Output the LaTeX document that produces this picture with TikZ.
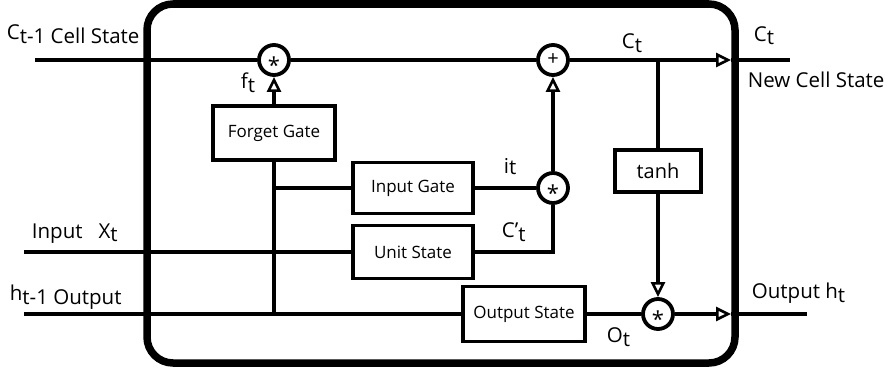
\documentclass[tikz,border=0pt]{standalone}
\usepackage{fontspec}
\setmainfont{Open Sans}
\usetikzlibrary{arrows.meta,positioning}

\newcommand{\lo}[1]{\raisebox{-4pt}{#1}}
\newcommand{\hi}[1]{\raisebox{4pt}{#1}}
\newcommand{\mulsym}{\raisebox{-13pt}[0pt][0pt]{*}}

\begin{document}
\begin{tikzpicture}[x=1pt, y=-1pt, line width=3.8pt,
  gate/.style={draw, rectangle, inner sep=0pt, font=\fontsize{17}{17}\selectfont},
  op/.style={draw, circle, minimum size=30pt, inner sep=0pt, font=\fontsize{22}{22}\selectfont},
  lbl/.style={inner sep=0pt, font=\fontsize{20.5}{20.5}\selectfont},
  oarr/.style={-{Triangle[open, length=15pt, width=14pt, line width=2.6pt]}}
]
  \useasboundingbox (0,0) rectangle (892,372);

  % cell border
  \node[draw, line width=7.5pt, rounded corners=26pt, minimum width=588pt, minimum height=359pt] (cell) at (441,183.5) {};

  % gates
  \node[gate, minimum width=122pt, minimum height=54pt] (forget) at (274,133) {Forget Gate};
  \node[gate, minimum width=120pt, minimum height=51pt] (igate) at (413,188) {Input Gate};
  \node[gate, minimum width=120pt, minimum height=53pt] (unit) at (413,252) {Unit State};
  \node[gate, minimum width=122pt, minimum height=55pt] (ostate) at (524,314) {Output State};
  \node[gate, minimum width=86pt, minimum height=42pt, font=\fontsize{20}{20}\selectfont] (tanh) at (658,171) {tanh};

  % pointwise ops
  \node[op] (fmul) at (274,60) {\mulsym};
  \node[op, font=\fontsize{20}{20}\selectfont] (plus) at (553,60) {+};
  \node[op] (imul) at (553,188) {\mulsym};
  \node[op] (omul) at (658,314) {\mulsym};

  % free ends
  \coordinate (cin) at (35,60);
  \coordinate (xin) at (24,252);
  \coordinate (hin) at (24,314);
  \coordinate (ctap) at (658,60);
  \coordinate (carr) at (731,60);
  \coordinate (cout) at (790,60);
  \coordinate (harr) at (731,314);
  \coordinate (hout) at (807,314);
  \coordinate (jig) at (274,188);
  \coordinate (jh) at (274,314);

  % connectors
  \draw (cin) -- (fmul);
  \draw (fmul) -- (plus);
  \draw[oarr] (plus) -- (carr);
  \draw (carr) -- (cout);
  \draw[oarr] (forget) -- (fmul);
  \draw (forget) -- (jh);
  \draw (jig) -- (igate);
  \draw (xin) -- (unit);
  \draw (hin) -- (ostate);
  \draw (igate) -- (imul);
  \draw (unit) -| (imul);
  \draw[oarr] (imul) -- (plus);
  \draw (ctap) -- (tanh);
  \draw[oarr] (tanh) -- (omul);
  \draw (ostate) -- (omul);
  \draw[oarr] (omul) -- (harr);
  \draw (harr) -- (hout);

  % labels
  \node[lbl, anchor=base west] (lcprev) at (5,43) {\hi{C}t-1 Cell State};
  \node[lbl, anchor=base west] (lct) at (620,48) {C\lo{t}};
  \node[lbl, anchor=base west] (lctr) at (752,41) {C\lo{t}};
  \node[lbl, anchor=base west] (lnew) at (746,87) {New Cell State};
  \node[lbl, anchor=base west] (lf) at (239,88) {f\lo{t}};
  \node[lbl, anchor=base west] (li) at (502,173) {i\raisebox{-1pt}{t}};
  \node[lbl, anchor=base west] (lcc) at (500,237) {C'\lo{t}};
  \node[lbl, anchor=base west] (lo) at (605,342) {O\lo{t}};
  \node[lbl, anchor=base west] (lx) at (30,238) {Input\ \ \ X\raisebox{-3pt}{t}};
  \node[lbl, anchor=base west] (lh) at (8,304) {\hi{h}t-1\ Output};
  \node[lbl, anchor=base west] (lhout) at (750,298) {Output\ h\lo{t}};
\end{tikzpicture}
\end{document}
